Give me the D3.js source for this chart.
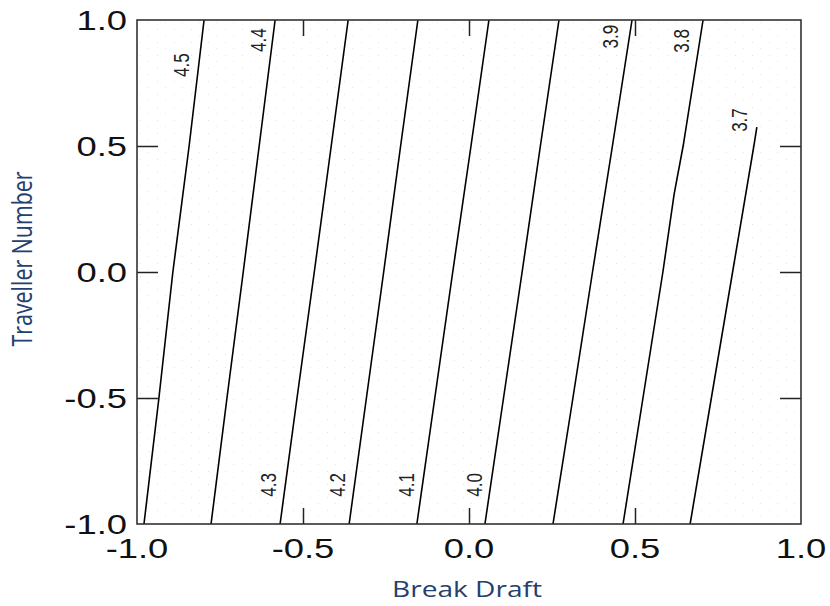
<!DOCTYPE html>
<html>
<head>
<meta charset="utf-8">
<script src="https://cdn.jsdelivr.net/npm/d3@7"></script>
<style>
  html, body { margin: 0; padding: 0; background: #fff; }
  svg { display: block; }
</style>
</head>
<body>
<svg id="chart" width="830" height="606"></svg>
<script>
// ---- data ----
const xDomain = [-1, 1];
const yDomain = [-1, 1];
const tickValues = [-1, -0.5, 0, 0.5, 1];
const tickLabels = ["-1.0", "-0.5", "0.0", "0.5", "1.0"];
const innerTicks = [-0.5, 0, 0.5];
const xTitle = "Break Draft";
const yTitle = "Traveller Number";

// contour levels and their paths (Break Draft at each Traveller Number)
const contourLevels = ["4.5", "4.4", "4.3", "4.2", "4.1", "4.0", "3.9", "3.8", "3.7"];
const contourY = [
  [-1, -0.5, 0, 0.5, 1],
  [-1, -0.5, 0, 0.5, 1],
  [-1, -0.5, 0, 0.5, 1],
  [-1, -0.5, 0, 0.5, 1],
  [-1, -0.5, 0, 0.5, 1],
  [-1, -0.5, 0, 0.5, 1],
  [-1, -0.5, 0, 0.5, 1],
  [-1, -0.5, 0, 0.31, 0.5, 1],
  [-1, -0.5, 0, 0.5, 0.575]
];
const contourX = [
  [-0.979, -0.934, -0.892, -0.843, -0.798],
  [-0.777, -0.729, -0.680, -0.632, -0.584],
  [-0.569, -0.518, -0.466, -0.415, -0.364],
  [-0.361, -0.309, -0.257, -0.206, -0.154],
  [-0.157, -0.103, -0.049, 0.006, 0.060],
  [0.048, 0.104, 0.160, 0.215, 0.271],
  [0.253, 0.313, 0.372, 0.432, 0.491],
  [0.464, 0.524, 0.584, 0.618, 0.645, 0.705],
  [0.666, 0.730, 0.794, 0.858, 0.867]
];
// label anchor positions (data units)
const labelX = [-0.866, -0.636, -0.605, -0.398, -0.190, 0.015, 0.426, 0.640, 0.813];
const labelY = [0.821, 0.920, -0.845, -0.845, -0.845, -0.845, 0.934, 0.917, 0.603];

// ---- layout ----
const svg = d3.select("#chart");
const L = 137, R = 801, T = 20, B = 524;
const x = d3.scaleLinear().domain(xDomain).range([L, R]);
const y = d3.scaleLinear().domain(yDomain).range([B, T]);
const SX = 1.3; // horizontal stretch of the original rendering

// faint dot pattern background
const defs = svg.append("defs");
const pat = defs.append("pattern").attr("id", "dots")
  .attr("patternUnits", "userSpaceOnUse").attr("width", 17).attr("height", 13);
pat.append("rect").attr("x", 4).attr("y", 3).attr("width", 1).attr("height", 1).attr("fill", "#e2e2e2");
pat.append("rect").attr("x", 12).attr("y", 9).attr("width", 1).attr("height", 1).attr("fill", "#e8e8e8");
svg.append("rect").attr("x", L).attr("y", T).attr("width", R - L).attr("height", B - T)
  .attr("fill", "url(#dots)");

// contour lines
const line = d3.line().x(d => x(d[0])).y(d => y(d[1]));
contourLevels.forEach((lev, i) => {
  const pts = contourX[i].map((v, j) => [v, contourY[i][j]]);
  svg.append("path").attr("d", line(pts))
    .attr("fill", "none").attr("stroke", "#000").attr("stroke-width", 1.6);
  svg.append("text")
    .attr("transform", `translate(${x(labelX[i])},${y(labelY[i])}) scale(${SX},1) rotate(-90)`)
    .attr("text-anchor", "middle").attr("dy", "0.35em")
    .attr("font-family", "Liberation Sans, Arial, sans-serif").attr("font-size", 17)
    .attr("fill", "#222").text(lev);
});

// inner ticks via axes
function styleAxis(g) {
  g.select(".domain").remove();
  g.selectAll("line").attr("stroke", "#222").attr("stroke-width", 1.5);
}
svg.append("g").attr("transform", `translate(0,${B})`)
  .call(d3.axisBottom(x).tickValues(innerTicks).tickSize(-16).tickFormat("")).call(styleAxis);
svg.append("g").attr("transform", `translate(0,${T})`)
  .call(d3.axisTop(x).tickValues(innerTicks).tickSize(-16).tickFormat("")).call(styleAxis);
svg.append("g").attr("transform", `translate(${L},0)`)
  .call(d3.axisLeft(y).tickValues(innerTicks).tickSize(-21).tickFormat("")).call(styleAxis);
svg.append("g").attr("transform", `translate(${R},0)`)
  .call(d3.axisRight(y).tickValues(innerTicks).tickSize(-21).tickFormat("")).call(styleAxis);

// frame
svg.append("rect").attr("x", L).attr("y", T).attr("width", R - L).attr("height", B - T)
  .attr("fill", "none").attr("stroke", "#333").attr("stroke-width", 1.6);

// tick labels
const tickFont = "Liberation Sans, Arial, sans-serif";
svg.append("g").selectAll("text").data(tickValues).join("text")
  .attr("transform", d => `translate(${x(d)},558) scale(${SX},1)`)
  .attr("text-anchor", "middle").attr("font-family", tickFont).attr("font-size", 28)
  .attr("fill", "#111").text((d, i) => tickLabels[i]);
svg.append("g").selectAll("text").data(tickValues).join("text")
  .attr("transform", d => `translate(127,${y(d) + 10}) scale(${SX},1)`)
  .attr("text-anchor", "end").attr("font-family", tickFont).attr("font-size", 28)
  .attr("fill", "#111").text((d, i) => tickLabels[i]);

// axis titles
const titleColor = "#23406e";
svg.append("text")
  .attr("transform", `translate(${(L + R) / 2 - 2},597) scale(${SX},1)`)
  .attr("text-anchor", "middle").attr("font-family", "Open Sans, sans-serif")
  .attr("font-size", 21).attr("font-weight", 500).attr("textLength", 150 / SX).attr("lengthAdjust", "spacingAndGlyphs")
  .attr("fill", titleColor).text(xTitle);
svg.append("text")
  .attr("transform", `translate(32,259) scale(${SX},1) rotate(-90)`)
  .attr("text-anchor", "middle").attr("font-family", "Open Sans, sans-serif")
  .attr("font-size", 21).attr("font-weight", 500).attr("textLength", 175).attr("lengthAdjust", "spacingAndGlyphs")
  .attr("fill", titleColor).text(yTitle);
</script>
</body>
</html>
